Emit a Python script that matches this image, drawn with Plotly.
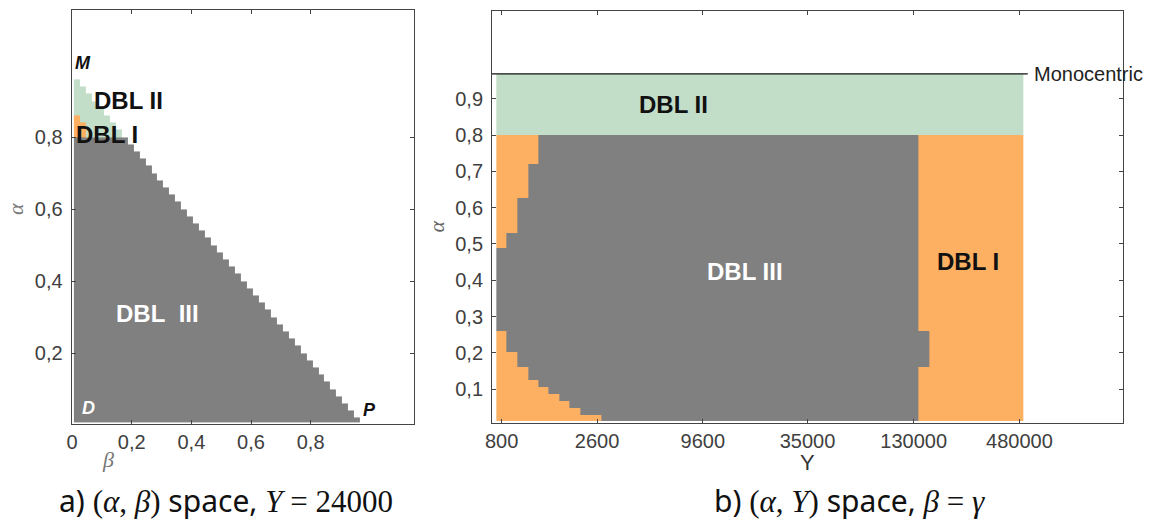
import numpy as np
import plotly.graph_objects as go

W, H = 1153, 522

# ---------------- Panel a: (alpha, beta) space, Y = 24000 ----------------
# grid of beta columns / alpha rows used in the simulation
BETA_EDGES = [round(0.006 + 0.02 * k, 3) for k in range(49)]
ALPHA_EDGES_A = [0.008] + [round(0.02 * k, 2) for k in range(1, 49)]
# top alpha of the feasible region for each beta column
A_TOP = [0.96, 0.94, 0.92, 0.90, 0.88, 0.86, 0.84, 0.82, 0.80, 0.78,
         0.76, 0.74, 0.72, 0.70, 0.68, 0.66, 0.64, 0.62, 0.60, 0.58,
         0.56, 0.54, 0.52, 0.50, 0.48, 0.46, 0.44, 0.42, 0.40, 0.38,
         0.36, 0.34, 0.32, 0.30, 0.28, 0.26, 0.24, 0.22, 0.20, 0.18,
         0.16, 0.14, 0.12, 0.10, 0.08, 0.06, 0.04, 0.02]
# DBL I (orange) top alpha for the first beta columns
ORANGE_TOP_A = [0.86, 0.84]
# DBL III below this alpha
A_SPLIT = 0.80

# ---------------- Panel b: (alpha, Y) space, beta = gamma ----------------
B_ROW_EDGES = [0.012, 0.028, 0.047, 0.067, 0.086, 0.106, 0.125, 0.162,
               0.201, 0.26, 0.49, 0.53, 0.626, 0.722, 0.80, 0.969]
Y_MIN = 749
Y_MAX = 505000
# Y where DBL I (left, orange) turns into DBL III (gray), per alpha row
Y_LEFT = [2732, 2110, 1851, 1637, 1430, 1254, 1109, 969, 847,
          749, 847, 969, 1109, 1254]
# Y where DBL III (gray) turns into DBL I (right, orange), per alpha row
Y_RIGHT = [138000, 138000, 138000, 138000, 138000, 138000, 138000,
           157600, 157600, 138000, 138000, 138000, 138000, 138000]
MONO_ALPHA = 0.969
MONO_Y = [710, 532000]

Y_TICKS = [800, 2600, 9600, 35000, 130000, 480000]
Y_TICKTEXT = ["800", "2600", "9600", "35000", "130000", "480000"]

ORANGE = "#FDAF62"
GREEN = "#C2DEC8"
GRAY = "#808080"
COLORSCALE = [[0, ORANGE], [0.5, GREEN], [1, GRAY]]

# ---- build panel a grid ----
be = np.array(BETA_EDGES)
ae = np.array(ALPHA_EDGES_A)
acen = (ae[:-1] + ae[1:]) / 2
za = np.full((len(acen), len(be) - 1), np.nan)
for j in range(len(be) - 1):
    for i, a in enumerate(acen):
        if a < A_TOP[j]:
            if a < A_SPLIT:
                za[i, j] = 3
            elif j < len(ORANGE_TOP_A) and a < ORANGE_TOP_A[j]:
                za[i, j] = 1
            else:
                za[i, j] = 2

# ---- build panel b grid ----
xb = sorted(set([Y_MIN, Y_MAX] + Y_LEFT + Y_RIGHT))
xb = np.array(xb, dtype=float)
xcen = np.sqrt(xb[:-1] * xb[1:])
zb = np.full((len(B_ROW_EDGES) - 1, len(xcen)), np.nan)
for i in range(len(B_ROW_EDGES) - 1):
    for j, yv in enumerate(xcen):
        if i >= len(Y_LEFT):
            zb[i, j] = 2
        elif yv < Y_LEFT[i]:
            zb[i, j] = 1
        elif yv < Y_RIGHT[i]:
            zb[i, j] = 3
        else:
            zb[i, j] = 1

fig = go.Figure()
fig.add_trace(go.Heatmap(x=be, y=ae, z=za, colorscale=COLORSCALE, zmin=1, zmax=3,
                         showscale=False, hoverinfo="skip", xaxis="x", yaxis="y"))
fig.add_trace(go.Heatmap(x=xb, y=B_ROW_EDGES, z=zb, colorscale=COLORSCALE, zmin=1, zmax=3,
                         showscale=False, hoverinfo="skip", xaxis="x2", yaxis="y2"))
fig.add_trace(go.Scatter(x=MONO_Y, y=[MONO_ALPHA, MONO_ALPHA], mode="lines",
                         line=dict(color="#111111", width=1.2), hoverinfo="skip",
                         xaxis="x2", yaxis="y2", showlegend=False))

TICKFONT = dict(family="Liberation Sans, Arial, sans-serif", size=20, color="#404040")
axcommon = dict(showline=True, mirror="ticks", linecolor="#444444", linewidth=1,
                ticks="inside", ticklen=4, tickcolor="#444444", showgrid=False,
                zeroline=False, tickfont=TICKFONT, fixedrange=True)

fig.update_layout(
    width=W, height=H, margin=dict(l=0, r=0, t=0, b=0),
    paper_bgcolor="white", plot_bgcolor="white", showlegend=False,
    xaxis=dict(domain=[65 / W, 409 / W], range=[-0.0017, 1.145], anchor="y",
               tickvals=[0, 0.2, 0.4, 0.6, 0.8],
               ticktext=["0", "0,2", "0,4", "0,6", "0,8"], **axcommon),
    yaxis=dict(domain=[1 - 424 / H, 1 - 10 / H], range=[0.0028, 1.1528], anchor="x",
               tickvals=[0.2, 0.4, 0.6, 0.8], ticklabelstandoff=4,
               ticktext=["0,2", "0,4", "0,6", "0,8"], **axcommon),
    xaxis2=dict(domain=[488 / W, 1123 / W], type="log", range=[2.8514, 6.238], anchor="y2",
                tickvals=Y_TICKS, ticktext=Y_TICKTEXT, **axcommon),
    yaxis2=dict(domain=[1 - 423.3 / H, 1 - 11 / H], range=[0.0054, 1.1427], anchor="x2",
                tickvals=[0.1, 0.2, 0.3, 0.4, 0.5, 0.6, 0.7, 0.8, 0.9], ticklabelstandoff=4,
                ticktext=["0,1", "0,2", "0,3", "0,4", "0,5", "0,6", "0,7", "0,8", "0,9"],
                **axcommon),
)

SANS = "Liberation Sans, Arial, sans-serif"
SERIF = "Liberation Serif, DejaVu Serif, serif"
ann = []

def lab(text, x, y, xref, yref, size, color, xanchor="center", **kw):
    ann.append(dict(text=text, x=x, y=y, xref=xref, yref=yref, showarrow=False,
                    xanchor=xanchor, yanchor="middle",
                    font=dict(family=kw.pop("family", SANS), size=size, color=color), **kw))

# panel a labels
lab("<b><i>M</i></b>", 0.038, 1.0056, "x", "y", 18, "#111111")
lab("<b>DBL II</b>", 0.19, 0.9028, "x", "y", 24, "#111111")
lab("<b>DBL I</b>", 0.118, 0.8083, "x", "y", 24, "#111111")
lab("<b>DBL\u00a0\u00a0III</b>", 0.285, 0.311, "x", "y", 24, "white")
lab("<b><i>D</i></b>", 0.055, 0.0472, "x", "y", 18, "white")
lab("<b><i>P</i></b>", 0.998, 0.0417, "x", "y", 18, "#111111")
# panel b labels
lab("<b>DBL II</b>", 3.8247, 0.8834, "x2", "y2", 24, "#111111")
lab("<b>DBL III</b>", 4.2114, 0.4255, "x2", "y2", 24, "white")
lab("<b>DBL I</b>", 5.406, 0.4531, "x2", "y2", 24, "#111111")
lab("Monocentric", 5.75, 0.9676, "x2", "y2", 20, "#222222", xanchor="left")

# axis titles
lab("<i>α</i>", 8 / W, 1 - 209 / H, "paper", "paper", 22, "#777777", family=SERIF, textangle=-90)
lab("<i>β</i>", 102 / W, 1 - 459 / H, "paper", "paper", 22, "#777777", family=SERIF)
lab("<i>α</i>", 432 / W, 1 - 226 / H, "paper", "paper", 22, "#666666", family=SERIF, textangle=-90)
lab("Y", 805 / W, 1 - 462 / H, "paper", "paper", 22, "#333333")

# captions
NB = "\u00a0"
S = "font-family:'Liberation Serif', 'DejaVu Serif', serif;font-size:31px"
cap_a = ("a)" + NB + "<span style=\"%s\">(<i>α</i>," + NB + "<i>β</i>)</span>" + NB + "space," + NB +
         "<span style=\"%s\"><i>Y</i>" + NB + "=" + NB + "24000</span>") % (S, S)
cap_b = ("b)" + NB + "<span style=\"%s\">(<i>α</i>," + NB + "<i>Y</i>)</span>" + NB + "space," + NB +
         "<span style=\"%s\"><i>β</i>" + NB + "=" + NB + "<i>γ</i></span>") % (S, S)
lab(cap_a, 220 / W, 1 - 500 / H, "paper", "paper", 30, "#111111", family="Noto Sans, sans-serif")
lab(cap_b, 848 / W, 1 - 500 / H, "paper", "paper", 30, "#111111", family="Noto Sans, sans-serif")

fig.update_layout(annotations=ann)
fig.write_html("out.html", config={"displayModeBar": False},
               post_script="document.body.style.margin='0px';"
                           "document.body.style.overflow='hidden';")
